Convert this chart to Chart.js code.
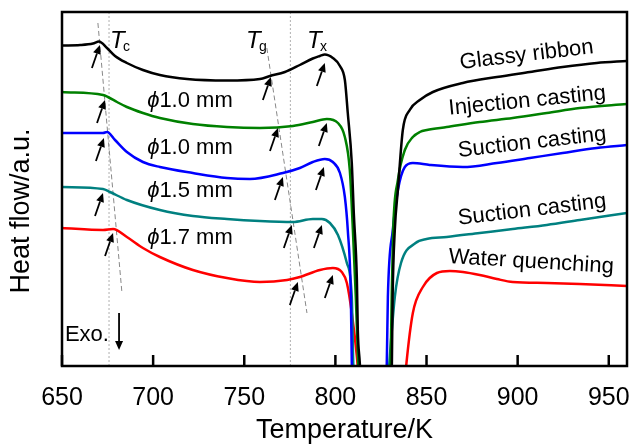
<!DOCTYPE html>
<html>
<head>
<meta charset="utf-8">
<script src="https://cdn.jsdelivr.net/npm/chart.js@4.4.0/dist/chart.umd.min.js"></script>
<style>
  body { margin: 0; background: #fff; }
</style>
</head>
<body>
<canvas id="myChart" width="632" height="444"></canvas>
<script>
var FONT = '"Liberation Sans", Arial, "DejaVu Sans", sans-serif';

// temperature (K) / heat flow (a.u.)
var glassyT = [650, 660, 667, 670.3, 674.7, 679.1, 685.6, 694.4, 703.7, 718.6, 740.5, 758.6, 764.1, 772.3, 780.5, 787.6, 791.5, 794.2, 798.6, 802.5, 805.2, 806.8, 809, 810.1, 811.8, 812.3, 813.4, 822, 831, 831.4, 832.6, 834.3, 837, 840.8, 846.3, 853.5, 869.9, 888.6, 906.7, 924.7, 943.4, 960];
var glassyH = [320.5, 321, 322.5, 324.5, 318, 310, 303, 296, 291, 287, 285.5, 287, 290, 294, 301, 307.5, 310, 311.5, 308, 300, 286, 253, 203, 153, 86, 36, 3, -300, 3, 69, 136, 176, 236, 256, 266, 274, 283, 289, 294, 299, 303, 305];

var injectT = [650, 672.5, 675.2, 680.2, 685.6, 694.4, 703.7, 721.8, 740.5, 758.6, 776.7, 787.6, 795.3, 801.4, 805.2, 807.9, 809.6, 811.2, 812.5, 821, 830.3, 830.9, 831.7, 834.3, 838.1, 842.5, 846.3, 850.2, 861.1, 879.2, 897.3, 916, 934.1, 960];
var injectH = [274, 271, 269, 264, 259, 253, 248, 242, 239, 238, 240, 244, 247, 243, 229, 196, 136, 69, 3, -300, 3, 69, 136, 186, 216, 229, 234, 236, 239, 244, 248, 253, 258, 262];

var suction10T = [650, 672.5, 674.7, 679.1, 685.6, 694.4, 703.7, 721.8, 740.5, 753.1, 771.2, 780.5, 787.6, 794.2, 798.6, 802.5, 805.2, 806.8, 808.5, 809, 818, 828.2, 828.8, 831.5, 834.3, 838.1, 842.5, 851.8, 869.9, 888.6, 906.7, 924.7, 943.4, 960];
var suction10H = [233, 233, 234, 226, 214, 204, 199, 193, 188, 187, 193, 198, 204, 207, 204, 193, 169, 136, 69, 3, -300, 3, 69, 136, 176, 199, 203, 201, 199, 203, 208, 213, 218, 221];

var suction15T = [650, 672.5, 676.3, 685.6, 703.7, 721.8, 740.5, 758.6, 776.7, 787.6, 792.6, 797, 801.4, 806.3, 809, 809.8, 818, 829.6, 832.6, 836, 844, 850, 861.1, 879.2, 897.3, 916, 934.1, 960];
var suction15H = [179, 177, 174, 166, 156, 150, 147, 145, 144, 147, 147, 143, 131, 103, 69, 3, -300, 3, 69, 103, 123, 127, 129, 133, 137, 141, 146, 153];

var waterT = [650, 672.5, 678, 685.6, 694.4, 703.7, 721.8, 740.5, 758.6, 773.5, 780.5, 791.5, 798.6, 803.5, 806.3, 809, 811.8, 825, 839, 842.5, 848, 855.7, 862.8, 870, 879.2, 888.6, 897.3, 916, 934.1, 960];
var waterH = [138, 136, 137, 129, 118, 109, 96, 88, 84, 86, 89, 96, 98, 94, 83, 53, 9, -300, 3, 53, 79, 93, 95, 94, 91, 87, 84, 83, 82, 80];

var xTicks = [650, 700, 750, 800, 850, 900, 950];

// onset markers [T, heat flow]: Tc, Tg, Tx for each curve
var arrowsGlassy = [[670.8, 321], [764.6, 289], [794.2, 303]];
var arrowsInject = [[673.6, 266], [768.5, 238], [795.3, 243]];
var arrowsSuction10 = [[673, 228], [771.2, 189], [793.7, 199]];
var arrowsSuction15 = [[672.5, 173], [776.1, 141], [792.6, 141]];
var arrowsWater = [[678, 133], [779.4, 84], [798.6, 91]];

// guide lines through the onsets
var tcGuideT = [669.7, 682.9], tcGuideH = [343, 73];
var tgGuideT = [762.4, 784.4], tgGuideH = [318, 53];
var refLineT = [675.8, 775.3];

function pts(xs, ys) {
    return xs.map(function(x, i) { return {x: x, y: ys[i]}; });
}

function curve(label, xs, ys, color) {
    return {
        label: label,
        data: pts(xs, ys),
        borderColor: color,
        borderWidth: 2.5,
        pointRadius: 0,
        cubicInterpolationMode: 'monotone',
        fill: false
    };
}

function guide(xs, ys, color, dash) {
    return {
        label: '',
        data: pts(xs, ys),
        borderColor: color,
        borderWidth: 1,
        borderDash: dash,
        pointRadius: 0,
        tension: 0,
        fill: false
    };
}

function arrow(ctx, x0, y0, x1, y1) {
    var ang = Math.atan2(y1 - y0, x1 - x0), hl = 9, hw = 4;
    var bx = x1 - hl * Math.cos(ang), by = y1 - hl * Math.sin(ang);
    ctx.beginPath();
    ctx.moveTo(x0, y0);
    ctx.lineTo(bx, by);
    ctx.stroke();
    ctx.beginPath();
    ctx.moveTo(x1, y1);
    ctx.lineTo(bx + hw * Math.sin(ang), by - hw * Math.cos(ang));
    ctx.lineTo(bx - hw * Math.sin(ang), by + hw * Math.cos(ang));
    ctx.closePath();
    ctx.fill();
}

var extras = {
    id: 'extras',
    afterDatasetsDraw: function(chart) {
        var ctx = chart.ctx, a = chart.chartArea;
        var xs = chart.scales.x, ys = chart.scales.y;
        function X(t) { return xs.getPixelForValue(t); }
        function Y(v) { return ys.getPixelForValue(v); }
        ctx.save();
        ctx.strokeStyle = '#000';
        ctx.fillStyle = '#000';

        // ticks pointing inward
        ctx.lineWidth = 2.5;
        xTicks.forEach(function(t) {
            ctx.beginPath();
            ctx.moveTo(X(t), a.bottom);
            ctx.lineTo(X(t), a.bottom - 11);
            ctx.stroke();
        });
        ctx.strokeRect(a.left, a.top, a.right - a.left, a.bottom - a.top);

        // onset arrows
        ctx.lineWidth = 1.8;
        [arrowsGlassy, arrowsInject, arrowsSuction10, arrowsSuction15, arrowsWater].forEach(function(set) {
            set.forEach(function(p) {
                arrow(ctx, X(p[0]) - 8, Y(p[1]) + 23, X(p[0]), Y(p[1]));
            });
        });
        arrow(ctx, X(681.3), Y(53), X(681.3), Y(16));

        // text
        function txt(s, t, v, opt) {
            opt = opt || {};
            ctx.save();
            ctx.translate(X(t), Y(v));
            ctx.rotate((opt.angle || 0) * Math.PI / 180);
            ctx.font = (opt.italic ? 'italic ' : '') + (opt.size || 22) + 'px ' + FONT;
            ctx.textAlign = opt.align || 'center';
            ctx.textBaseline = 'alphabetic';
            ctx.fillText(s, 0, 0);
            ctx.restore();
        }
        function sub(t, v, s) {
            txt('T', t, v, {italic: true, align: 'left', size: 24});
            ctx.save();
            ctx.font = '14px ' + FONT;
            ctx.textAlign = 'left';
            ctx.fillText(s, X(t) + 13, Y(v) + 3);
            ctx.restore();
        }
        sub(676.3, 318, 'c');
        sub(750.9, 318, 'g');
        sub(784.4, 318, 'x');

        [['1.0 mm', 259], ['1.0 mm', 212], ['1.5 mm', 169], ['1.7 mm', 122]].forEach(function(d) {
            ctx.save();
            ctx.font = '22px ' + FONT;
            var w1 = ctx.measureText(d[0]).width;
            ctx.font = 'italic 22px ' + FONT;
            var w0 = ctx.measureText('\u03D5').width;
            var x0 = X(720.2) - (w0 + w1) / 2;
            ctx.textAlign = 'left';
            ctx.fillText('\u03D5', x0, Y(d[1]));
            ctx.font = '22px ' + FONT;
            ctx.fillText(d[0], x0 + w0, Y(d[1]));
            ctx.restore();
        });

        txt('Glassy ribbon', 905.3, 305, {angle: -6.8});
        txt('Injection casting', 905.6, 259, {angle: -5.7});
        txt('Suction casting', 908.3, 217.5, {angle: -6.5});
        txt('Suction casting', 908.3, 150, {angle: -6.8});
        txt('Water quenching', 907.2, 98, {angle: 3.4});
        txt('Exo.', 651.6, 25, {align: 'left'});

        // y axis title
        ctx.save();
        ctx.translate(22, 211);
        ctx.rotate(-Math.PI / 2);
        ctx.font = '27px ' + FONT;
        ctx.textAlign = 'center';
        ctx.textBaseline = 'middle';
        ctx.fillText('Heat flow/a.u.', 0, 0);
        ctx.restore();

        ctx.restore();
    }
};

var ctx = document.getElementById('myChart').getContext('2d');
var chart = new Chart(ctx, {
    type: 'line',
    data: {
        datasets: [
            curve('Glassy ribbon', glassyT, glassyH, '#000000'),
            curve('Injection casting', injectT, injectH, '#008000'),
            curve('Suction casting 1.0', suction10T, suction10H, '#0000ff'),
            curve('Suction casting 1.5', suction15T, suction15H, '#008080'),
            curve('Water quenching', waterT, waterH, '#ff0000'),
            guide(tcGuideT, tcGuideH, '#888888', [5, 3]),
            guide(tgGuideT, tgGuideH, '#888888', [5, 3]),
            guide([refLineT[0], refLineT[0]], [0, 354], '#b0b0b0', [2, 2]),
            guide([refLineT[1], refLineT[1]], [0, 354], '#b0b0b0', [2, 2])
        ]
    },
    options: {
        responsive: false,
        animation: false,
        layout: { padding: { top: 12, right: 5, left: 0, bottom: 0 } },
        plugins: {
            legend: { display: false },
            tooltip: { enabled: false }
        },
        scales: {
            x: {
                type: 'linear',
                min: 650,
                max: 960,
                afterFit: function(scale) {
                    scale.height = 78;
                    scale.paddingLeft = 0;
                    scale.paddingRight = 0;
                },
                afterBuildTicks: function(scale) {
                    scale.ticks = xTicks.map(function(v) { return {value: v}; });
                },
                grid: { display: false, drawTicks: false },
                border: { display: false },
                ticks: {
                    padding: 17,
                    color: '#000',
                    font: { family: FONT, size: 25 },
                    maxRotation: 0,
                    autoSkip: false
                },
                title: {
                    display: true,
                    text: 'Temperature/K',
                    color: '#000',
                    font: { family: FONT, size: 27 },
                    padding: { top: 0, bottom: -3 }
                }
            },
            y: {
                min: 0,
                max: 354,
                afterFit: function(scale) { scale.width = 62; },
                grid: { display: false, drawTicks: false },
                border: { display: false },
                ticks: { display: false },
                title: { display: false }
            }
        }
    },
    plugins: [extras]
});
</script>
</body>
</html>
